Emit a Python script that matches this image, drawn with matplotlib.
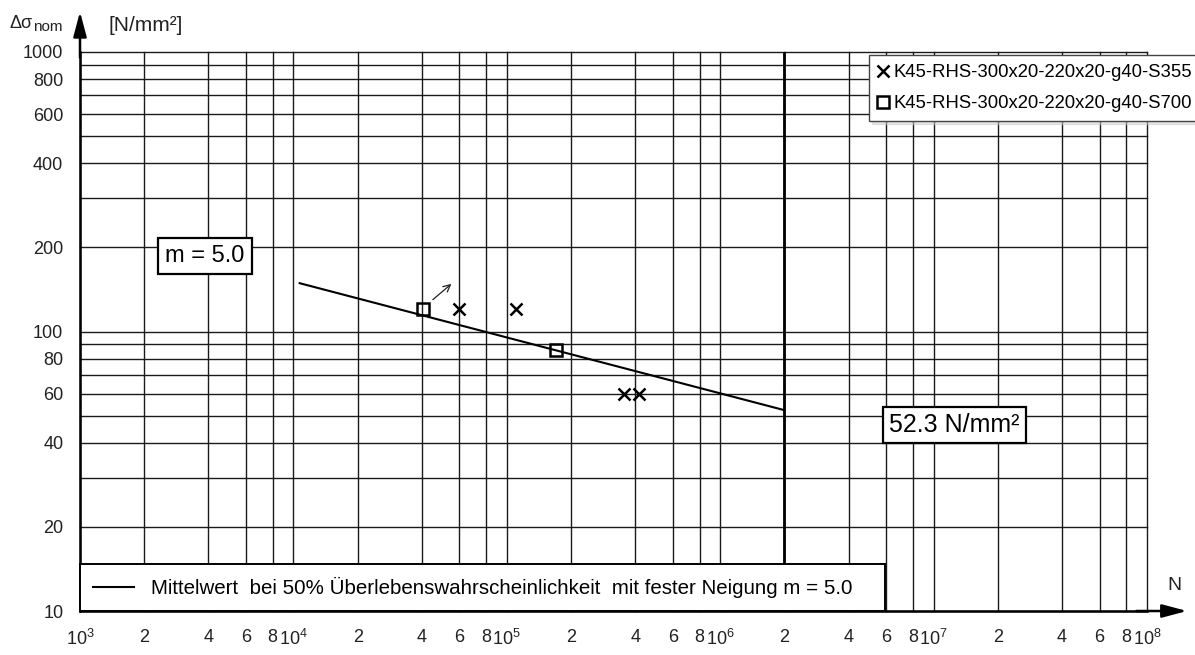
import matplotlib
matplotlib.use("Agg")
import matplotlib.pyplot as plt

plt.rcParams["font.family"] = ["Liberation Sans", "DejaVu Sans"]
plt.rcParams["mathtext.fontset"] = "custom"
plt.rcParams["mathtext.rm"] = "Liberation Sans"
plt.rcParams["mathtext.it"] = "Liberation Sans:italic"
plt.rcParams["mathtext.bf"] = "Liberation Sans:bold"

# test results: cycles N and nominal stress range [N/mm²]
n_s355 = [6.0e4, 1.11e5, 3.56e5, 4.18e5]
s_s355 = [120, 120, 60, 60]
n_s700 = [4.05e4, 1.70e5]
s_s700 = [120, 86]
label_s355 = "K45-RHS-300x20-220x20-g40-S355"
label_s700 = "K45-RHS-300x20-220x20-g40-S700"

# mean curve, fixed slope
m = 5.0
n_ref = 2e6
s_ref = 52.3
n_start = 1.07e4

# run-out arrow at the first S700 specimen
runout_n = [4.5e4, 5.5e4]
runout_s = [130, 148]

y_labelled = [10, 20, 40, 60, 80, 100, 200, 400, 600, 800, 1000]
x_decades = [3, 4, 5, 6, 7]
x_mantissas = [1, 2, 4, 6, 8]

W, H = 1195, 655
fig = plt.figure(figsize=(W / 100, H / 100), dpi=100)
x0, x1, y0, y1 = 80, 1147, 52, 611
ax = fig.add_axes([x0 / W, 1 - y1 / H, (x1 - x0) / W, (y1 - y0) / H])
ax.set_xscale("log"); ax.set_yscale("log")
ax.set_xlim(1e3, 1e8); ax.set_ylim(10, 1000)

# ticks double as grid positions
xt, xl = [], []
for d in x_decades:
    for k in x_mantissas:
        xt.append(k * 10 ** d)
        xl.append(f"$10^{{{d}}}$" if k == 1 else str(k))
xt.append(1e8); xl.append("$10^{8}$")
ax.set_xticks(xt, xl)
yt = [k * 10 ** d for d in (1, 2) for k in range(1, 10)] + [1000]
ax.set_yticks(yt, [str(v) if v in y_labelled else "" for v in yt])
ax.minorticks_off()
ax.tick_params(length=0, labelsize=13, colors="#222222")
ax.tick_params(axis="x", pad=13)
ax.tick_params(axis="y", pad=12)
ax.grid(True, color="#1a1a1a", lw=1.0)
for gl in ax.get_xgridlines() + ax.get_ygridlines():
    gl.set_clip_on(False)
ax.set_axisbelow(True)
for s in ("top", "right"):
    ax.spines[s].set_visible(False)
for s in ("left", "bottom"):
    ax.spines[s].set_linewidth(1.8)
ax.axvline(n_ref, color="black", lw=2.0)

# axis arrows
ap = dict(arrowstyle="-|>,head_length=0.75,head_width=0.2", color="black",
          lw=1.8, shrinkA=0, shrinkB=0, mutation_scale=20)
ax.annotate("", xy=(0, 1.072), xytext=(0, 0.99), xycoords="axes fraction",
            arrowprops=ap, annotation_clip=False)
ax.annotate("", xy=(1.0375, 0), xytext=(0.99, 0), xycoords="axes fraction",
            arrowprops=ap, annotation_clip=False)

# mean curve
n_fit = [n_start, n_ref]
s_fit = [s_ref * (n_ref / n) ** (1 / m) for n in n_fit]
line, = ax.plot(n_fit, s_fit, color="black", lw=1.5, zorder=3)

h355, = ax.plot(n_s355, s_s355, ls="none", marker="x", ms=8, mew=1.8,
                color="black", zorder=4)
h700, = ax.plot(n_s700, s_s700, ls="none", marker="s", ms=8.5, mew=1.8,
                mfc="none", mec="black", zorder=4)
ax.annotate("", xy=(runout_n[1], runout_s[1]), xytext=(runout_n[0], runout_s[0]),
            arrowprops=dict(arrowstyle="->,head_length=0.5,head_width=0.25",
                            lw=0.9, color="#222222", shrinkA=0, shrinkB=0))

ax.text(3.86e3, 186, f"m = {m:.1f}", fontsize=17, ha="center", va="center",
        bbox=dict(boxstyle="square,pad=0.3", fc="white", ec="black", lw=1.6), zorder=5)
ax.text(1.25e7, 46.3, f"{s_ref} N/mm²", fontsize=18, ha="center", va="center",
        bbox=dict(boxstyle="square,pad=0.25", fc="white", ec="black", lw=1.6), zorder=5)

# legends
leg1 = ax.legend([line], ["Mittelwert  bei 50% Überlebenswahrscheinlichkeit  mit fester Neigung m = 5.0"],
                 loc="lower left", bbox_to_anchor=(0, 0, (885 - x0) / (x1 - x0), 0.08),
                 mode="expand", borderaxespad=0, fontsize=14.8, handlelength=2.0,
                 handletextpad=0.85, borderpad=0.62, fancybox=False, framealpha=1,
                 edgecolor="black")
leg1.get_frame().set_linewidth(1.4)
ax.add_artist(leg1)

leg2 = ax.legend([h355, h700], [label_s355, label_s700], loc="upper left",
                 bbox_to_anchor=(869 / W, 1 - 55 / H), bbox_transform=fig.transFigure,
                 borderaxespad=0, fontsize=13.3, handlelength=0.55, handletextpad=0.3,
                 borderpad=0.5, labelspacing=0.75, fancybox=False, framealpha=1,
                 edgecolor="#444444", shadow={"color": "0.8"})
leg2.get_frame().set_linewidth(1.0)

# axis titles
fig.text(9 / W, 1 - 28 / H, "Δσ", fontsize=13, va="baseline", color="#222222")
fig.text(33 / W, 1 - 31 / H, "nom", fontsize=11, va="baseline", color="#222222")
fig.text(109 / W, 1 - 31 / H, "[N/mm²]", fontsize=15, va="baseline", color="#222222")
fig.text(1174 / W, 1 - 585 / H, "N", fontsize=14, ha="center", va="center", color="#222222")

fig.savefig("out.png", dpi=100)
